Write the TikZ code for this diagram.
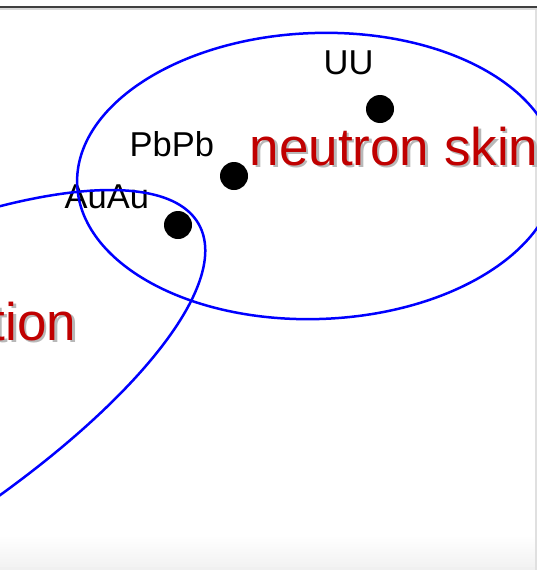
\documentclass[tikz,border=0pt]{standalone}
\usepackage{fontspec}
\setmainfont{Liberation Sans}
\definecolor{skinred}{RGB}{192,0,0}
\definecolor{ellblue}{RGB}{0,0,255}
\definecolor{frameline}{RGB}{64,64,64}
\newcommand{\shadowtext}[1]{\makebox[0pt][l]{\hspace{2.5pt}\raisebox{-2.5pt}{\textcolor{black!28}{#1}}}#1}
\begin{document}
\begin{tikzpicture}[x=1pt,y=-1pt,
  ell/.style={draw=ellblue,line width=2.5pt},
  dotmark/.style={circle,fill=black,minimum size=28pt,inner sep=0pt},
  lbl/.style={inner sep=0pt,anchor=base west,font=\fontsize{34.5}{40}\selectfont,text=black},
  bigred/.style={inner sep=0pt,font=\fontsize{53}{60}\selectfont,text=skinred}]
\useasboundingbox (0,0) rectangle (537,570);
\clip (0,0) rectangle (537,570);
% background and frame
\fill[white] (0,0) rectangle (537,570);
\shade[top color=white,bottom color=black!5] (0,535) rectangle (537,567);
\fill[black!6] (0,567) rectangle (537,570);
\fill[black!12] (535,8) rectangle (537,570);
\fill[black!15] (0,8) rectangle (537,9.5);
\fill[frameline] (0,5.5) rectangle (537,8);
% big labels with shadow
\node[bigred,anchor=base west] (skin) at (249.5,165) {\shadowtext{neutron skin}};
\node[bigred,anchor=base east] (tion) at (76.5,340) {\shadowtext{tion}};
% collision labels
\node[lbl] (uu) at (323.5,74) {UU};
\node[lbl] (pbpb) at (129.5,156) {PbPb};
\node[lbl] (auau) at (64.5,208) {AuAu};
% ellipses
\draw[ell,rotate around={2:(317,176)}] (317,176) ellipse [x radius=240, y radius=143];
\draw[ell,rotate around={29.3:(-203.4,449.9)}] (-203.4,449.9) ellipse [x radius=461.2, y radius=147.6];
% data points
\node[dotmark] (uudot) at (380,109) {};
\node[dotmark] (pbdot) at (234,176) {};
\node[dotmark] (audot) at (178,225) {};
\end{tikzpicture}
\end{document}
